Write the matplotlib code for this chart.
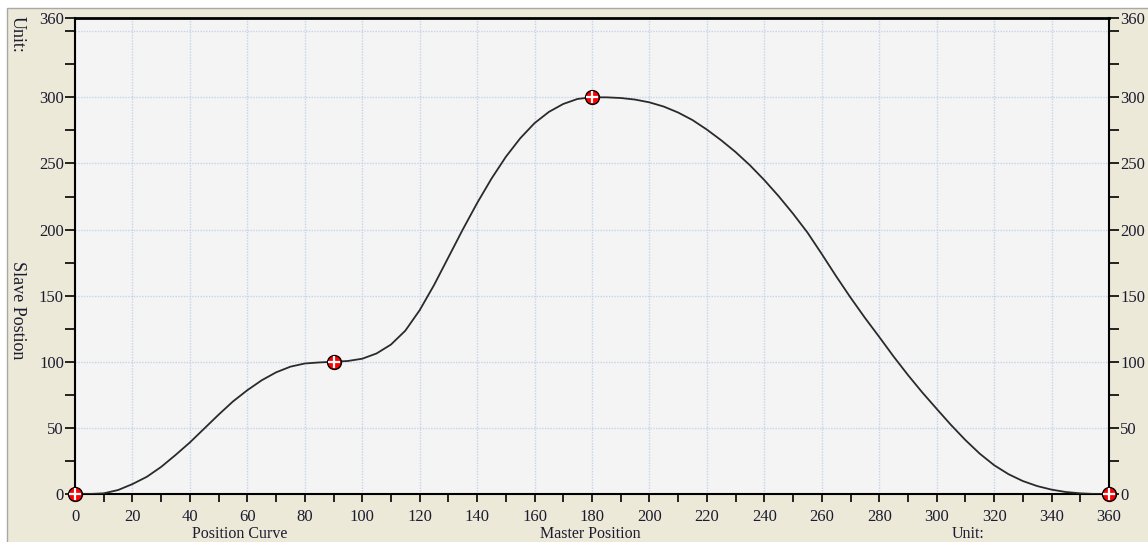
import matplotlib.pyplot as plt
from matplotlib.patches import Rectangle
from matplotlib.ticker import MultipleLocator, FixedLocator

# cam curve, every 5 units of master position
master_pos = list(range(0, 365, 5))
slave_pos = [0, 0, 0.5, 3, 7.5, 13, 20.5, 29.5, 39, 49.5,
             60, 70, 78.5, 86, 92, 96.3, 98.7, 99.5, 100, 100.6,
             102.3, 106.3, 113, 123.5, 139, 158, 179, 200, 220, 238.5,
             255, 269, 280.5, 289, 295, 298.8, 300, 300, 299.5, 298.3,
             296.2, 293, 288.5, 282.8, 275.6, 267.5, 258.6, 248.6, 237.4, 225.2,
             212, 197.8, 181.5, 164.7, 148.6, 133.3, 118.8, 104, 90, 76.8,
             64.4, 52.2, 40.8, 30.5, 21.8, 15, 9.8, 6, 3.3, 1.5,
             0.5, 0, 0]

# key points of the cam
key_x = [0, 90, 180, 360]
key_y = [0, 100, 300, 0]

x_ticks = list(range(0, 361, 20))
y_ticks = [0, 50, 100, 150, 200, 250, 300, 360]
y_grid = [0, 50, 100, 150, 200, 250, 300, 350]

W, H = 1148, 542
beige = '#ECE9D8'
txt = '#1c1c30'
font = 'Liberation Serif'

fig = plt.figure(figsize=(W / 100, H / 100), dpi=100)
fig.patch.set_facecolor('white')
fig.add_artist(Rectangle((7 / W, -0.01), 1.0, (H - 8) / H + 0.01, transform=fig.transFigure,
                         facecolor=beige, edgecolor='#a8a8a8', linewidth=1.0, zorder=-10))

ax = fig.add_axes([75 / W, (H - 494) / H, 1034 / W, 476 / H])
ax.set_facecolor('#F4F4F4')
ax.set_xlim(0, 360)
ax.set_ylim(0, 360)

# grid
for gx in x_ticks:
    ax.axvline(gx, color='#c6d3e8', linestyle=(0, (1, 1)), linewidth=1, zorder=0)
for gy in y_grid:
    ax.axhline(gy, color='#c6d3e8', linestyle=(0, (1, 1)), linewidth=1, zorder=0)

ax.plot(master_pos, slave_pos, color='#2a2a2a', linewidth=1.3, zorder=3)
ax.plot(key_x, key_y, linestyle='none', marker='o', markersize=10, markerfacecolor='#ff0000',
        markeredgecolor='black', markeredgewidth=1.0, zorder=5, clip_on=False)
ax.plot(key_x, key_y, linestyle='none', marker='+', markersize=8, markeredgecolor='white',
        markeredgewidth=1.6, zorder=6, clip_on=False)

ax.xaxis.set_major_locator(FixedLocator(x_ticks))
ax.xaxis.set_minor_locator(MultipleLocator(10))
ax.yaxis.set_major_locator(FixedLocator(y_ticks))
ax.yaxis.set_minor_locator(FixedLocator([25, 75, 125, 175, 225, 275, 325, 350]))

ax.tick_params(axis='both', which='both', direction='out', color='black', width=1.2,
               labelcolor=txt, labelsize=12)
ax.tick_params(axis='y', which='both', left=True, right=True, labelleft=True, labelright=True,
               length=7, pad=1)
ax.tick_params(axis='x', which='both', length=6, pad=5)
for t in ax.yaxis.get_major_ticks():
    t.label1.set_family(font)
    t.label2.set_family(font)
for t in ax.xaxis.get_major_ticks():
    t.label1.set_family(font)

for s in ax.spines.values():
    s.set_color('black')
    s.set_linewidth(1.5)
ax.spines['top'].set_linewidth(2)

fig.text(17 / W, 1 - 34 / H, 'Unit:', rotation=270, ha='center', va='center',
         fontsize=13, family=font, color=txt)
fig.text(17 / W, 1 - 310 / H, 'Slave Postion', rotation=270, ha='center', va='center',
         fontsize=13, family=font, color=txt)
fig.text(240 / W, 1 - 534 / H, 'Position Curve', ha='center', va='center',
         fontsize=11.5, family=font, color=txt)
fig.text(590 / W, 1 - 534 / H, 'Master Position', ha='center', va='center',
         fontsize=11.5, family=font, color=txt)
fig.text(968 / W, 1 - 534 / H, 'Unit:', ha='center', va='center',
         fontsize=11.5, family=font, color=txt)

fig.savefig('out.png', dpi=100, facecolor=fig.get_facecolor())
